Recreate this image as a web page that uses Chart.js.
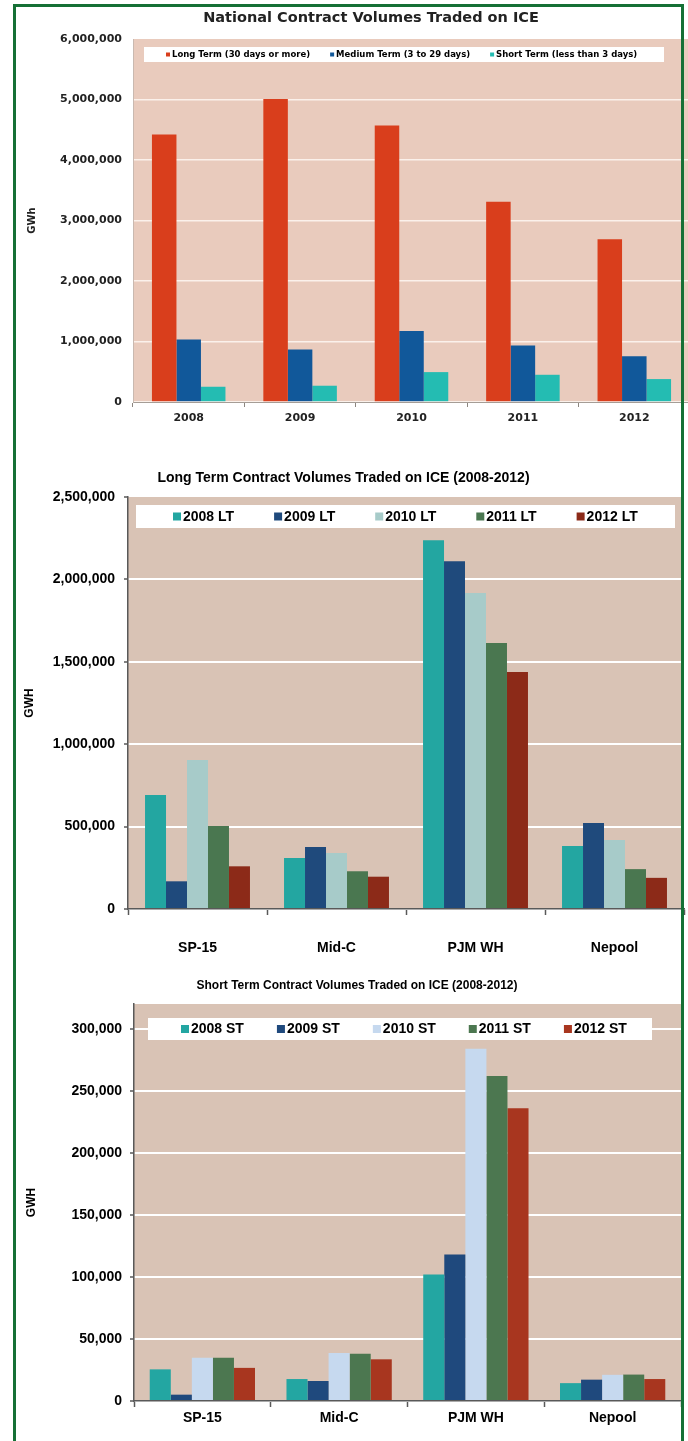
<!DOCTYPE html>
<html>
<head>
<meta charset="utf-8">
<script src="https://cdn.jsdelivr.net/npm/chart.js@4.4.0/dist/chart.umd.min.js"></script>
<style>
  html, body { margin: 0; padding: 0; background: #fff; }
  #page { position: relative; width: 688px; height: 1441px; overflow: hidden; background: #fff; }
  canvas { position: absolute; left: 0; }
  #frame { position: absolute; left: 13px; top: 4px; width: 671px; height: 1500px; box-sizing: border-box;
           border: 3px solid #157035; pointer-events: none; z-index: 2; }
</style>
</head>
<body>
<div id="page">
  <canvas id="national" width="700" height="440" style="top:0"></canvas>
  <canvas id="longTerm" width="688" height="515" style="top:455px"></canvas>
  <canvas id="shortTerm" width="688" height="476" style="top:965px"></canvas>
  <div id="frame"></div>
</div>
<script>
// national volumes, GWh
const years = ['2008', '2009', '2010', '2011', '2012'];
const natLong = [4420000, 5010000, 4570000, 3310000, 2690000];
const natMedium = [1033000, 869000, 1175000, 934000, 758000];
const natShort = [252000, 269000, 494000, 450000, 379000];
const natTicks = [0, 1000000, 2000000, 3000000, 4000000, 5000000, 6000000];

// hub volumes, GWH
const hubs = ['SP-15', 'Mid-C', 'PJM WH', 'Nepool'];
const lt2008 = [692000, 309000, 2237000, 382000];
const lt2009 = [168000, 376000, 2110000, 522000];
const lt2010 = [904000, 340000, 1917000, 419000];
const lt2011 = [504000, 229000, 1614000, 242000];
const lt2012 = [259000, 196000, 1438000, 189000];
const ltTicks = [0, 500000, 1000000, 1500000, 2000000, 2500000];

const st2008 = [25500, 17700, 102000, 14400];
const st2009 = [5100, 16100, 118000, 17200];
const st2010 = [34800, 38700, 284000, 21100];
const st2011 = [34800, 38100, 262000, 21300];
const st2012 = [26700, 33600, 236000, 17700];
const stTicks = [0, 50000, 100000, 150000, 200000, 250000, 300000];

const fmt = v => String(v).replace(/\B(?=(\d{3})+(?!\d))/g, ',');
const fixTicks = list => s => { s.ticks = list.map(v => ({ value: v })); };

// plot background
const areaBg = {
  id: 'areaBg',
  beforeDraw(chart, args, o) {
    const a = chart.chartArea, ctx = chart.ctx;
    ctx.save();
    ctx.fillStyle = o.color;
    ctx.fillRect(a.left, a.top, a.right - a.left, a.bottom - a.top);
    ctx.restore();
  }
};

// white legend box inside the plot
const boxLegend = {
  id: 'boxLegend',
  beforeDatasetsDraw(chart, args, o) {
    const a = chart.chartArea, ctx = chart.ctx;
    ctx.save();
    ctx.fillStyle = '#fff';
    ctx.fillRect(a.left + o.x, a.top + o.y, o.w, o.h);
    ctx.font = o.font;
    ctx.textBaseline = 'middle';
    const cy = a.top + o.y + o.h / 2;
    let x = a.left + o.x + o.first;
    chart.data.datasets.forEach(ds => {
      ctx.fillStyle = ds.backgroundColor;
      ctx.fillRect(x, cy - o.box / 2, o.box, o.box);
      x += o.box + o.pad;
      ctx.fillStyle = '#000';
      ctx.fillText(ds.label, x, cy + 0.5);
      x += ctx.measureText(ds.label).width + o.gap;
    });
    ctx.restore();
  }
};

// National chart
new Chart(document.getElementById('national'), {
  type: 'bar',
  data: {
    labels: years,
    datasets: [
      { label: 'Long Term (30 days or more)', data: natLong, backgroundColor: '#d93e1c' },
      { label: 'Medium Term (3 to 29 days)', data: natMedium, backgroundColor: '#11589a' },
      { label: 'Short Term (less than 3 days)', data: natShort, backgroundColor: '#24bcb2' }
    ]
  },
  options: {
    responsive: false,
    animation: false,
    layout: { padding: { left: 52, right: 10, top: 0, bottom: 8 } },
    datasets: { bar: { categoryPercentage: 0.66, barPercentage: 1 } },
    plugins: {
      legend: { display: false },
      tooltip: { enabled: false },
      title: {
        display: true, text: 'National Contract Volumes Traded on ICE', color: '#222',
        font: { family: 'DejaVu Sans', weight: 'bold', size: 14.5 },
        padding: { top: 9.3, bottom: 12.3 }
      },
      areaBg: { color: '#e9cbbd' },
      boxLegend: { x: 11, y: 8, w: 520, h: 15, first: 22, box: 4, pad: 2, gap: 20,
                   font: 'bold 8.5px "DejaVu Sans"' }
    },
    scales: {
      x: {
        grid: { drawOnChartArea: false, tickLength: 5, tickColor: '#8c8680' },
        border: { color: '#a59d96', width: 1 },
        ticks: { padding: 4.4, color: '#222', font: { family: 'DejaVu Sans', weight: 'bold', size: 11 } },
        afterFit: s => { s.height = 30; }
      },
      y: {
        min: 0, max: 6000000,
        afterBuildTicks: fixTicks(natTicks),
        grid: { color: c => c.tick.value === 6000000 ? 'rgba(0,0,0,0)' : '#fbf1eb', lineWidth: 1.5, drawTicks: false },
        border: { color: '#c9b9b0', width: 1 },
        ticks: { padding: 11, color: '#222', callback: fmt,
                 font: { family: 'DejaVu Sans', weight: 'bold', size: 11 } },
        title: { display: true, text: 'GWh', color: '#222', padding: { top: -26, bottom: 0 },
                 font: { family: 'DejaVu Sans', weight: 'bold', size: 10 } },
        afterFit: s => { s.width = 81; }
      }
    }
  },
  plugins: [areaBg, boxLegend]
});

function hubChart(id, opts) {
  const fontA = size => ({ family: 'Liberation Sans', weight: 'bold', size: size });
  return new Chart(document.getElementById(id), {
    type: 'bar',
    data: { labels: hubs, datasets: opts.datasets },
    options: {
      responsive: false,
      animation: false,
      layout: { padding: opts.padding },
      datasets: { bar: { categoryPercentage: opts.catPct, barPercentage: 1 } },
      plugins: {
        legend: { display: false },
        tooltip: { enabled: false },
        title: { display: true, text: opts.title, color: '#000', font: fontA(opts.titleSize),
                 padding: opts.titlePad },
        areaBg: { color: '#d9c3b5' },
        boxLegend: opts.legend
      },
      scales: {
        x: {
          grid: { drawOnChartArea: false, tickLength: 6, tickColor: '#595959', tickWidth: 1.5 },
          border: { color: '#595959', width: 1.5 },
          ticks: { padding: opts.xPad, color: '#000', font: fontA(14) },
          afterFit: s => { s.height = opts.xHeight; }
        },
        y: {
          min: 0, max: opts.max,
          afterBuildTicks: fixTicks(opts.ticks),
          grid: { color: c => c.tick.value === opts.max ? 'rgba(0,0,0,0)' : '#ffffff', lineWidth: 2,
                  tickLength: 4, tickColor: '#595959', tickWidth: 1.5 },
          border: { color: '#595959', width: 1.5 },
          ticks: { padding: opts.yPad, color: '#000', font: fontA(14), callback: fmt },
          title: { display: true, text: 'GWH', color: '#000', font: fontA(12),
                   padding: { top: opts.yTitlePad, bottom: 0 } },
          afterFit: s => { s.width = opts.yWidth; }
        }
      }
    },
    plugins: [areaBg, boxLegend]
  });
}

hubChart('longTerm', {
  title: 'Long Term Contract Volumes Traded on ICE (2008-2012)',
  titleSize: 14,
  titlePad: { top: 14.6, bottom: 10.6 },
  padding: { left: 3, right: 4, top: 0, bottom: 11 },
  max: 2500000, ticks: ltTicks,
  yWidth: 125, yPad: 9, yTitlePad: 19.8,
  xHeight: 50, xPad: 24.6,
  catPct: 0.755,
  legend: { x: 8, y: 8, w: 539, h: 23, first: 37, box: 8, pad: 2, gap: 40, font: 'bold 14px "Liberation Sans"' },
  datasets: [
    { label: '2008 LT', data: lt2008, backgroundColor: '#23a6a1' },
    { label: '2009 LT', data: lt2009, backgroundColor: '#1f4a7c' },
    { label: '2010 LT', data: lt2010, backgroundColor: '#a7cbc9' },
    { label: '2011 LT', data: lt2011, backgroundColor: '#4a7750' },
    { label: '2012 LT', data: lt2012, backgroundColor: '#8c2a18' }
  ]
});

hubChart('shortTerm', {
  title: 'Short Term Contract Volumes Traded on ICE (2008-2012)',
  titleSize: 12,
  titlePad: { top: 13.8, bottom: 10.8 },
  padding: { left: 33, right: 7, top: 0, bottom: 10 },
  max: 320000, ticks: stTicks,
  yWidth: 101, yPad: 8, yTitlePad: -8.2,
  xHeight: 30, xPad: 2.6,
  catPct: 0.77,
  legend: { x: 14, y: 14, w: 504, h: 22, first: 33, box: 8, pad: 2, gap: 33, font: 'bold 14px "Liberation Sans"' },
  datasets: [
    { label: '2008 ST', data: st2008, backgroundColor: '#23a6a2' },
    { label: '2009 ST', data: st2009, backgroundColor: '#1f497d' },
    { label: '2010 ST', data: st2010, backgroundColor: '#c6d9ef' },
    { label: '2011 ST', data: st2011, backgroundColor: '#4c7750' },
    { label: '2012 ST', data: st2012, backgroundColor: '#a8361f' }
  ]
});
</script>
</body>
</html>
